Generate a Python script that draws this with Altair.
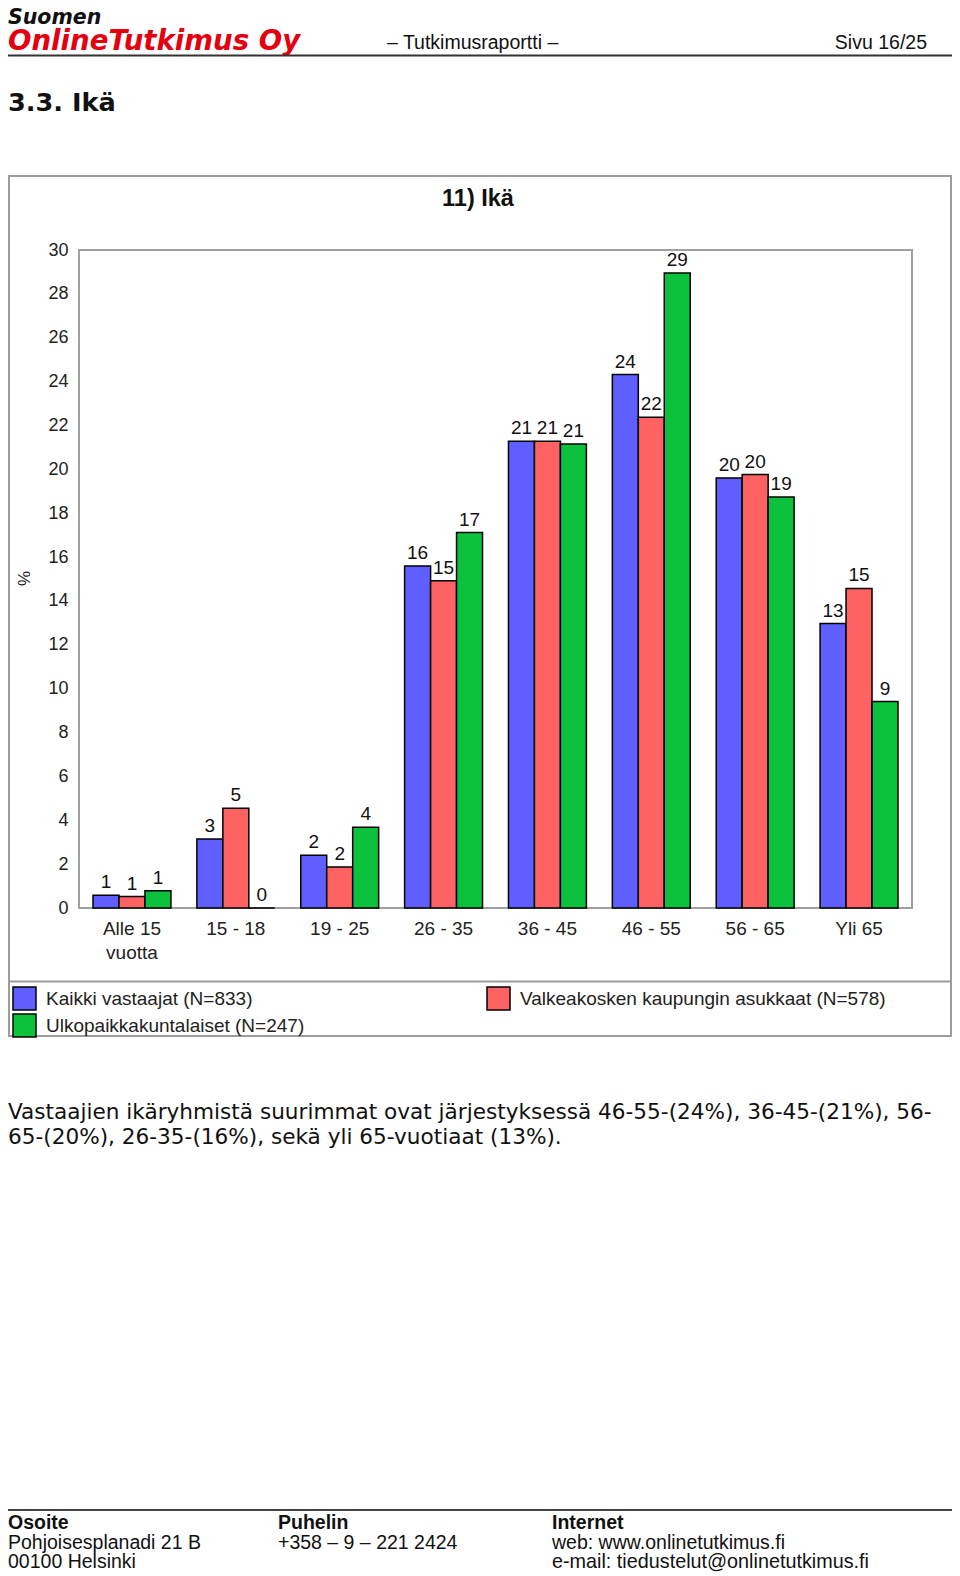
import altair as alt
import pandas as pd

# ---- data ----
categories = ["Alle 15 vuotta", "15 - 18", "19 - 25", "26 - 35", "36 - 45", "46 - 55", "56 - 65", "Yli 65"]
series = ["Kaikki vastaajat (N=833)", "Valkeakosken kaupungin asukkaat (N=578)", "Ulkopaikkakuntalaiset (N=247)"]
kaikki = [0.58, 3.15, 2.40, 15.59, 21.28, 24.32, 19.61, 12.97]
valkeakoski = [0.52, 4.55, 1.87, 14.92, 21.28, 22.37, 19.76, 14.57]
ulko = [0.79, 0.0, 3.68, 17.12, 21.16, 28.95, 18.74, 9.41]
colors = ["#5f5fff", "#ff6262", "#0cc23c"]
y_ticks = list(range(0, 31, 2))

rows = []
for s, vals in zip(series, [kaikki, valkeakoski, ulko]):
    for c, v in zip(categories, vals):
        rows.append({"ika": c, "sarja": s, "arvo": v})
df = pd.DataFrame(rows)

# page geometry (page px); plot origin on page
OX, OY = 79, 250
PW, PH = 833, 658
SVG_W, SVG_H = 944, 1566
one = alt.Data(values=[{"k": 0}])

def px(x):
    return x - OX

def py(y):
    return y - OY

def txt(text, x, y, size, weight="normal", style="normal", color="#111", align="left",
        font="Liberation Sans"):
    return alt.Chart(one).mark_text(
        text=text, align=align, baseline="alphabetic", font=font, fontSize=size,
        fontWeight=weight, fontStyle=style, color=color
    ).encode(x=alt.value(px(x)), y=alt.value(py(y)))

def hline(x1, x2, y, color, width):
    return alt.Chart(one).mark_rule(color=color, strokeWidth=width).encode(
        x=alt.value(px(x1)), x2=alt.value(px(x2)), y=alt.value(py(y)))

# chart frame
frame = alt.Chart(one).mark_rect(fill="white", fillOpacity=0, stroke="#9c9c9c", strokeWidth=2).encode(
    x=alt.value(px(9)), x2=alt.value(px(951)), y=alt.value(py(176)), y2=alt.value(py(1036)))
sep = hline(9, 951, 981.5, "#9c9c9c", 2)

x_enc = alt.X("ika:N", sort=categories, title=None,
              scale=alt.Scale(paddingInner=0.25, paddingOuter=0.135),
              axis=alt.Axis(labelAngle=0, labelFontSize=19, labelColor="#222", labelPadding=11,
                            ticks=False, domain=False, labelLineHeight=24, labelFont="Liberation Sans",
                            zindex=1,
                            labelExpr="datum.label == 'Alle 15 vuotta' ? ['Alle 15', 'vuotta'] : datum.label"))
y_enc = alt.Y("arvo:Q", title="%",
              scale=alt.Scale(domain=[0, 30], nice=False, zero=True),
              axis=alt.Axis(values=y_ticks, labelFontSize=18, labelColor="#222", labelPadding=11,
                            ticks=False, domain=False, grid=False, labelFont="Liberation Sans",
                            titleFont="Liberation Sans", zindex=1,
                            titleFontSize=17, titleFontWeight="normal", titleColor="#222",
                            titleX=px(24), titleY=py(578), titleAngle=270,
                            titleAlign="center", titleBaseline="middle"))
xo = alt.XOffset("sarja:N", sort=series, scale=alt.Scale(paddingInner=0, paddingOuter=0))

bars = alt.Chart(df).mark_bar(stroke="black", strokeWidth=1.5, opacity=1).encode(
    x=x_enc, y=y_enc, xOffset=xo,
    color=alt.Color("sarja:N", sort=series,
                    scale=alt.Scale(domain=series, range=colors),
                    legend=alt.Legend(title=None, orient="none", legendX=px(12), legendY=py(986),
                                      values=series, direction="horizontal",
                                      columns=2, columnPadding=179, rowPadding=-20,
                                      symbolType="square", symbolSize=529, symbolStrokeColor="black",
                                      symbolStrokeWidth=1.5, symbolOpacity=1,
                                      labelFontSize=19, labelColor="#222", labelOffset=9,
                                      labelFont="Liberation Sans", labelLimit=500, padding=0)),
)

labels = alt.Chart(df).transform_calculate(lbl="round(datum.arvo)").mark_text(
    baseline="bottom", dy=-3, fontSize=19, font="Liberation Sans", color="#111"
).encode(x=alt.X("ika:N", sort=categories), xOffset=xo, y="arvo:Q", text=alt.Text("lbl:Q", format=".0f"))

title = txt("11) Ikä", 478, 206, 23.5, weight="bold", align="center", color="#111")

# page header
header = [
    txt("Suomen", 8, 23.5, 20.5, weight="bold", style="italic", color="#111", font="DejaVu Sans"),
    txt("OnlineTutkimus Oy", 8, 49.5, 27.6, weight="bold", style="italic", color="#e4000f", font="DejaVu Sans"),
    txt("– Tutkimusraportti –", 387, 49, 19.5, color="#111"),
    txt("Sivu 16/25", 927, 49, 19.5, color="#111", align="right"),
    hline(8, 952, 55.5, "#333", 2),
    txt("3.3. Ikä", 8, 111, 25.6, weight="bold", color="#111", font="DejaVu Sans"),
]

body = [
    txt("Vastaajien ikäryhmistä suurimmat ovat järjestyksessä 46-55-(24%), 36-45-(21%), 56-", 8, 1119, 21.6,
        font="DejaVu Sans"),
    txt("65-(20%), 26-35-(16%), sekä yli 65-vuotiaat (13%).", 8, 1144, 21.6, font="DejaVu Sans"),
]

footer = [
    hline(8, 952, 1510, "#444", 2),
    txt("Osoite", 8, 1529, 19.5, weight="bold"),
    txt("Puhelin", 278, 1529, 19.5, weight="bold"),
    txt("Internet", 552, 1529, 19.5, weight="bold"),
    txt("Pohjoisesplanadi 21 B", 8, 1549, 19.5),
    txt("+358 – 9 – 221 2424", 278, 1549, 19.5),
    txt("web: www.onlinetutkimus.fi", 552, 1549, 19.5),
    txt("00100 Helsinki", 8, 1568, 19.5),
    txt("e-mail: tiedustelut@onlinetutkimus.fi", 552, 1568, 19.8),
]

chart = alt.layer(frame, sep, title, bars, labels, *header, *body, *footer).properties(
    width=PW, height=PH,
    padding={"left": OX - 8, "top": OY - 8, "right": SVG_W - (OX - 8) - PW, "bottom": SVG_H - (OY - 8) - PH},
    autosize=alt.AutoSizeParams(type="none"),
    background="white",
).configure_view(stroke="#a0a0a0", strokeWidth=2).configure_axis(labelFont="Liberation Sans")

chart.save("out.html", embed_options={"renderer": "svg", "actions": False})
